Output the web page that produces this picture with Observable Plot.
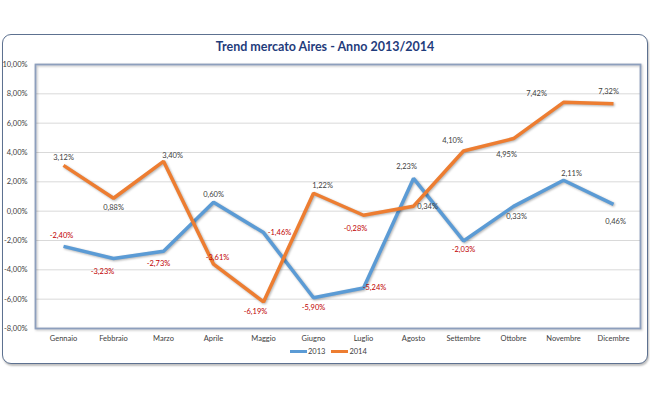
<!DOCTYPE html>
<html>
<head>
<meta charset="utf-8">
<script src="https://cdn.jsdelivr.net/npm/d3@7"></script>
<script src="https://cdn.jsdelivr.net/npm/@observablehq/plot@0.6"></script>
<style>
  html, body { margin: 0; padding: 0; background: #fff; }
  #page { position: relative; width: 650px; height: 400px; overflow: hidden; background: #fff; font-family: Lato, "Liberation Sans", sans-serif; }
  #box { position: absolute; left: 2px; top: 34px; width: 644px; height: 328px; border: 1.5px solid #5d7190; border-radius: 9px; box-shadow: 1px 2px 2px rgba(0,0,0,0.25); background: #fff; }
  #title { position: absolute; left: 0; width: 650px; top: 39px; text-align: center; font-weight: bold; font-size: 12.5px; color: #1f3c7c; }
  #chart { position: absolute; left: 0; top: 50px; }
  #legend { position: absolute; top: 347px; left: 290px; font-size: 7.5px; color: #404040; display: flex; align-items: center; }
  .sw { display: inline-block; width: 17px; height: 2.5px; margin-right: 1px; }
</style>
</head>
<body>
<div id="page">
  <div id="box"></div>
  <div id="title">Trend mercato Aires - Anno 2013/2014</div>
  <div id="chart"></div>
  <div id="legend"></div>
</div>
<script>
// ---- data ----
const months = ["Gennaio","Febbraio","Marzo","Aprile","Maggio","Giugno","Luglio","Agosto","Settembre","Ottobre","Novembre","Dicembre"];
const values2013 = [-2.40, -3.23, -2.73, 0.60, -1.46, -5.90, -5.24, 2.23, -2.03, 0.33, 2.11, 0.46];
const values2014 = [3.12, 0.88, 3.40, -3.61, -6.19, 1.22, -0.28, 0.34, 4.10, 4.95, 7.42, 7.32];
const seriesNames = ["2013", "2014"];
const yTicks = [-8, -6, -4, -2, 0, 2, 4, 6, 8, 10];

// ---- label placement (layout only) ----
const labelDx2013 = [-2, -11, -5, 0, 16, 0, 11, -7, 0, 3, 8, 2];
const labelDy2013 = [-11, 13, 12, -8, 0, 10, 0, -12, 9, 10, -7, 17];
const labelDx2014 = [0, 0, 9, 4, -8, 9, -8, 14, -11, -7, -27, -5];
const labelDy2014 = [-8, 9, -6, -7, 10, -8, 13, 0, -10, 16, -9, -12];

const colors = {"2013": "#5b9bd5", "2014": "#ed7d31"};

const loc = d3.formatLocale({decimal: ",", thousands: ".", grouping: [3], currency: ["", "€"], minus: "-"});
const f2 = loc.format(".2f");
const pct = v => f2(v) + "%";

const rows = [];
months.forEach((m, i) => {
  rows.push({month: m, series: "2013", value: values2013[i], dx: labelDx2013[i], dy: labelDy2013[i]});
  rows.push({month: m, series: "2014", value: values2014[i], dx: labelDx2014[i], dy: labelDy2014[i]});
});

const labelMarks = rows.map(r => Plot.text([r], {
  x: "month", y: "value", text: d => pct(d.value),
  dx: r.dx, dy: r.dy,
  fill: r.value < 0 ? "#c00000" : "#404040",
  fontSize: 7.5
}));

const chart = Plot.plot({
  width: 650,
  height: 300,
  marginLeft: 35,
  marginRight: 10,
  marginTop: 14,
  marginBottom: 22,
  style: {fontFamily: "Lato, 'Liberation Sans', sans-serif", background: "transparent"},
  x: {type: "point", domain: months, padding: 0.5, label: null, tickSize: 0, tickPadding: 7},
  y: {domain: [-8, 10], ticks: yTicks, label: null, tickSize: 0, tickPadding: 8, tickFormat: pct},
  color: {domain: seriesNames, range: seriesNames.map(s => colors[s])},
  marks: [
    Plot.gridY(yTicks, {stroke: "#d9d9d9", strokeOpacity: 1, strokeWidth: 1}),
    Plot.axisY({ticks: yTicks, tickSize: 0, tickPadding: 8, tickFormat: pct, fontSize: 7.5, fill: "#404040", label: null}),
    Plot.axisX({tickSize: 0, tickPadding: 7, fontSize: 7.5, fill: "#404040", label: null}),
    Plot.line(rows, {x: "month", y: "value", z: "series", stroke: d => d.series, strokeWidth: 3.5, strokeLinejoin: "miter", strokeLinecap: "butt"}),
    Plot.frame({stroke: "#8d9fbd", strokeWidth: 1.8}),
    ...labelMarks
  ]
});
document.getElementById("chart").appendChild(chart);

// subtle shadows like the original
d3.select(chart).selectAll("g[aria-label=line] path").style("filter", "drop-shadow(1px 1.5px 1px rgba(0,0,0,0.3))");
d3.select(chart).selectAll("[aria-label=frame]").style("filter", "drop-shadow(1px 1px 1px rgba(0,0,0,0.25))");

// legend
const leg = d3.select("#legend");
seriesNames.forEach((s, i) => {
  const item = leg.append("span").style("display", "flex").style("align-items", "center").style("margin-right", i === 0 ? "6px" : "0");
  item.append("span").attr("class", "sw").style("background", colors[s]);
  item.append("span").text(s);
});
</script>
</body>
</html>
